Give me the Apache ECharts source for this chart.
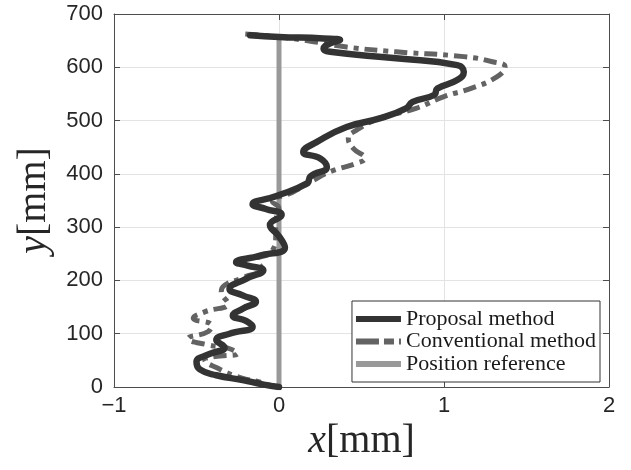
<!DOCTYPE html>
<html>
<head>
<meta charset="utf-8">
<script src="https://cdn.jsdelivr.net/npm/echarts@6/dist/echarts.min.js"></script>
<style>
html,body{margin:0;padding:0;background:#fff;}
#chart{width:631px;height:470px;}
</style>
</head>
<body>
<div id="chart"></div>
<script>
// Proposal method trajectory (x in mm, y in mm)
const propX = [0, -0.10, -0.22, -0.38, -0.48, -0.50, -0.42, -0.33, -0.38, -0.30,
  -0.16, -0.20, -0.28, -0.22, -0.14, -0.22, -0.30, -0.20, -0.095, -0.19,
  -0.26, -0.12, 0.036, 0.0, -0.055, 0.016, -0.08, -0.16, -0.02, 0.17,
  0.19, 0.29, 0.25, 0.147, 0.23, 0.41, 0.61, 0.77, 0.81, 0.94,
  0.96, 1.08, 1.12, 1.08, 0.71, 0.31, 0.27, 0.31, 0.37, 0.27,
  0.0, -0.175];
const propY = [0, 5, 13, 22, 33, 47, 62, 74, 88, 100,
  113, 124, 134, 147, 160, 172, 184, 203, 219, 228,
  234, 246, 262, 283, 304, 323, 334, 343, 358, 382,
  395, 413, 429, 441, 460, 488, 504, 523, 535, 548,
  560, 576, 591, 604, 617, 629, 635, 645, 651, 654,
  657, 660];
// Conventional method trajectory
const convX = [0, -0.06, -0.125, -0.23, -0.37, -0.45, -0.39, -0.25, -0.31, -0.43,
  -0.55, -0.43, -0.41, -0.52, -0.45, -0.31, -0.35, -0.33, -0.23, -0.105,
  -0.135, -0.045, -0.02, -0.02, 0.0, -0.04, 0.08, 0.21, 0.31, 0.47,
  0.52, 0.45, 0.42, 0.47, 0.61, 0.83, 1.0, 1.16, 1.32, 1.37,
  1.30, 1.12, 0.71, 0.41, 0.21, 0.0, -0.24];
const convY = [0, 4, 10, 17, 35, 51, 57, 63, 73, 79,
  91, 104, 116, 129, 141, 157, 179, 191, 204, 223,
  238, 254, 285, 310, 335, 348, 365, 388, 404, 420,
  429, 448, 466, 482, 504, 523, 545, 560, 582, 601,
  610, 620, 629, 638, 648, 657, 663];
// Position reference
const refX = [0, 0];
const refY = [0, 655];
const seriesNames = ['Proposal method', 'Conventional method', 'Position reference'];
const xTicks = [-1, 0, 1, 2];
const yTicks = [0, 100, 200, 300, 400, 500, 600, 700];

const zip = (a, b) => a.map((v, i) => [v, b[i]]);

const chart = echarts.init(document.getElementById('chart'), null, {renderer: 'canvas'});
const tickLabel = {color: '#262626', fontFamily: 'Liberation Sans, Arial, sans-serif', fontSize: 22};
function axisCommon() {
  return {
    axisLine: {show: true, onZero: false, lineStyle: {color: '#4d4d4d', width: 1}},
    axisTick: {show: true, inside: true, length: 6, lineStyle: {color: '#4d4d4d', width: 1}},
    splitLine: {show: true, lineStyle: {color: '#e3e3e3', width: 1}}
  };
}
const nameRich = {
  i: {fontFamily: 'Liberation Serif, serif', fontStyle: 'italic', fontSize: 40, color: '#262626'},
  n: {fontFamily: 'Liberation Serif, serif', fontSize: 40, color: '#262626'}
};
chart.setOption({
  animation: false,
  backgroundColor: '#ffffff',
  grid: {left: 114, right: 22, top: 14, bottom: 83},
  xAxis: [
    Object.assign(axisCommon(), {
      type: 'value', min: xTicks[0], max: xTicks[xTicks.length - 1], interval: 1,
      axisLabel: Object.assign({margin: 8, formatter: v => (v < 0 ? '\u2212' + (-v) : '' + v)}, tickLabel),
      name: '{i|x}{n|[mm]}', nameLocation: 'middle', nameGap: 30,
      nameTextStyle: {rich: nameRich}
    }),
    Object.assign(axisCommon(), {
      type: 'value', position: 'top', min: xTicks[0], max: xTicks[xTicks.length - 1], interval: 1,
      axisLabel: {show: false}, splitLine: {show: false}
    })
  ],
  yAxis: [
    Object.assign(axisCommon(), {
      type: 'value', min: yTicks[0], max: yTicks[yTicks.length - 1], interval: 100,
      axisLabel: Object.assign({margin: 11}, tickLabel),
      name: '{i|y}{n|[mm]}', nameLocation: 'middle', nameGap: 60, nameRotate: 90,
      nameTextStyle: {rich: nameRich}
    }),
    Object.assign(axisCommon(), {
      type: 'value', position: 'right', min: yTicks[0], max: yTicks[yTicks.length - 1], interval: 100,
      axisLabel: {show: false}, splitLine: {show: false}
    })
  ],
  legend: {
    orient: 'vertical', right: 31, bottom: 88,
    backgroundColor: '#ffffff', borderColor: '#333333', borderWidth: 1,
    padding: [7, 4, 7, 4], itemGap: 0.5, itemWidth: 45, itemHeight: 6,
    data: [
      {name: seriesNames[0], icon: 'path://M0,0H45V6H0Z'},
      {name: seriesNames[1], icon: 'path://M0,0H23V6H0Z M28,0H38V6H28Z M43,0H45V6H43Z'},
      {name: seriesNames[2], icon: 'path://M0,0H45V6H0Z'}
    ],
    textStyle: {fontFamily: 'Liberation Serif, serif', fontSize: 22, lineHeight: 22, color: '#1a1a1a'}
  },
  series: [
    {
      name: seriesNames[0], type: 'line', data: zip(propX, propY), symbol: 'none', smooth: 0.5,
      z: 4, color: '#333333',
      lineStyle: {color: '#333333', width: 6.5, cap: 'round', join: 'round'}
    },
    {
      name: seriesNames[1], type: 'line', data: zip(convX, convY), symbol: 'none', smooth: 0.5,
      z: 3, color: '#636363',
      lineStyle: {color: '#636363', width: 5, type: [13, 6, 5, 6], cap: 'butt', join: 'round'}
    },
    {
      name: seriesNames[2], type: 'line', data: zip(refX, refY), symbol: 'none',
      z: 2, color: '#999999',
      lineStyle: {color: '#999999', width: 5}
    }
  ]
});
</script>
</body>
</html>
